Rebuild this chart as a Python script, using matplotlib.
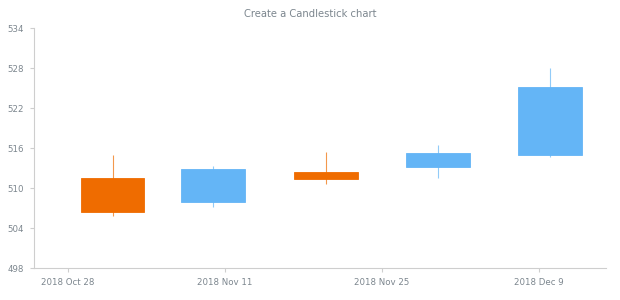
import matplotlib
matplotlib.use('Agg')
import matplotlib.pyplot as plt
import matplotlib.dates as mdates
import pandas as pd

dates = ['2018-11-01', '2018-11-10', '2018-11-20', '2018-11-30', '2018-12-10']
opens = [511.5, 507.9, 512.4, 513.1, 515.0]
highs = [515.0, 513.3, 515.4, 516.4, 528.0]
lows = [505.8, 507.2, 510.6, 511.5, 514.7]
closes = [506.4, 512.9, 511.4, 515.3, 525.2]

tick_dates = ['2018-10-28', '2018-11-11', '2018-11-25', '2018-12-09']
tick_labels = ['2018 Oct 28', '2018 Nov 11', '2018 Nov 25', '2018 Dec 9']

up_color = '#64b5f6'
down_color = '#ef6c00'
grey = '#7c868e'
axis_color = '#cecece'

x = mdates.date2num(pd.to_datetime(dates))
ticks = mdates.date2num(pd.to_datetime(tick_dates))

fig = plt.figure(figsize=(6.2, 3.0), dpi=100)
ax = fig.add_axes([34 / 620, 1 - 268 / 300, (606 - 34) / 620, (268 - 28) / 300])

width = 5.7
for xi, o, h, l, c in zip(x, opens, highs, lows, closes):
    col = up_color if c >= o else down_color
    ax.vlines(xi, l, h, color=col, linewidth=0.8, alpha=0.7, zorder=1)
    ax.bar(xi, abs(c - o), bottom=min(o, c), width=width, color=col,
           edgecolor=col, linewidth=0.6, zorder=2)

ax.set_xlim(mdates.date2num(pd.Timestamp('2018-10-25')), mdates.date2num(pd.Timestamp('2018-12-15')))
ax.set_ylim(498, 534)
ax.set_yticks([498, 504, 510, 516, 522, 528, 534])
ax.set_xticks(ticks)
ax.set_xticklabels(tick_labels)

for side in ['top', 'right']:
    ax.spines[side].set_visible(False)
for side in ['left', 'bottom']:
    ax.spines[side].set_color(axis_color)
    ax.spines[side].set_linewidth(0.8)
ax.tick_params(colors=axis_color, labelcolor=grey, labelsize=6.2, length=3, width=0.8, pad=4)

fig.text(0.5, 1 - 14 / 300, 'Create a Candlestick chart', ha='center', va='center',
         color=grey, fontsize=7.2)

fig.savefig('out.png', dpi=100)
